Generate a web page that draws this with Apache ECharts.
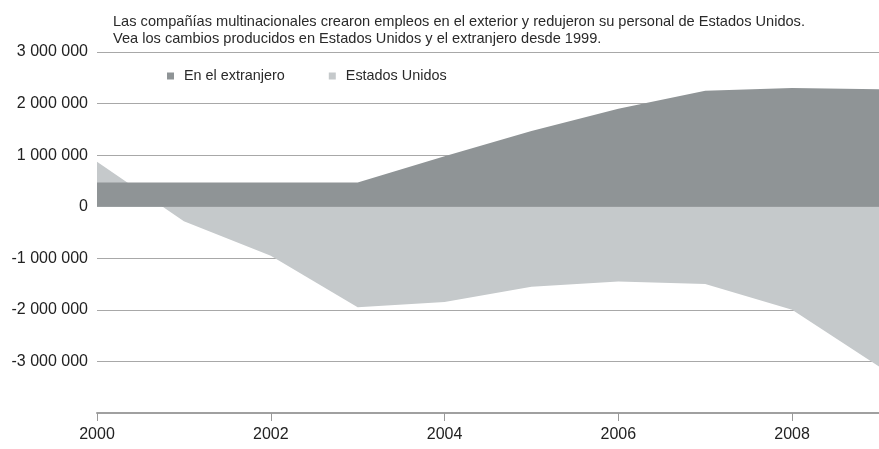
<!DOCTYPE html>
<html>
<head>
<meta charset="utf-8">
<script src="https://cdn.jsdelivr.net/npm/echarts@6/dist/echarts.min.js"></script>
<style>
html,body{margin:0;padding:0;background:#fff;}
#chart{width:879px;height:449px;}
</style>
</head>
<body>
<div id="chart"></div>
<script>
const titleLines = [
  'Las compañías multinacionales crearon empleos en el exterior y redujeron su personal de Estados Unidos.',
  'Vea los cambios producidos en Estados Unidos y el extranjero desde 1999.'
];
const years = ['2000','2001','2002','2003','2004','2005','2006','2007','2008','2009'];
const seriesNames = ['En el extranjero', 'Estados Unidos'];
const abroad = [470000, 470000, 470000, 470000, 980000, 1470000, 1900000, 2250000, 2300000, 2280000];
const unitedStates = [870000, -280000, -950000, -1950000, -1850000, -1550000, -1450000, -1500000, -2000000, -3100000];
const yTicks = [-4000000, -3000000, -2000000, -1000000, 0, 1000000, 2000000, 3000000];

const FONT = '"Liberation Sans", Arial, Helvetica, sans-serif';
function fmt(v) {
  if (v === yTicks[0]) return '';
  const s = Math.abs(v).toString().replace(/\B(?=(\d{3})+(?!\d))/g, ' ');
  return (v < 0 ? '-' : '') + s;
}

const chart = echarts.init(document.getElementById('chart'), null, {renderer: 'canvas'});
chart.setOption({
  backgroundColor: '#ffffff',
  animation: false,
  title: {
    text: titleLines.join('\n'),
    left: 108,
    top: 8,
    textStyle: {fontFamily: FONT, fontSize: 14.6, fontWeight: 'normal', color: '#2a2a2a', lineHeight: 17}
  },
  legend: {
    data: seriesNames,
    left: 162,
    top: 64,
    itemWidth: 7,
    itemHeight: 7,
    itemGap: 44,
    icon: 'rect',
    textStyle: {fontFamily: FONT, fontSize: 14.4, color: '#2a2a2a', padding: [0, 0, 0, 5]}
  },
  grid: {left: 97, right: -5.5, top: 52, bottom: 36, containLabel: false},
  xAxis: {
    type: 'category',
    data: years,
    boundaryGap: false,
    axisLine: {show: true, onZero: false, lineStyle: {color: '#a0a0a0', width: 2}},
    axisTick: {show: true, interval: 1, length: 8, lineStyle: {color: '#999', width: 1}},
    axisLabel: {interval: 1, margin: 14, fontFamily: FONT, fontSize: 16, color: '#222'},
    splitLine: {show: false}
  },
  yAxis: {
    type: 'value',
    min: yTicks[0],
    max: yTicks[yTicks.length - 1],
    interval: 1000000,
    axisLine: {show: false},
    axisTick: {show: false},
    axisLabel: {formatter: fmt, margin: 9, fontFamily: FONT, fontSize: 16, color: '#222'},
    splitLine: {show: true, lineStyle: {color: '#a8a8a8', width: 1.2}}
  },
  series: [
    {
      name: seriesNames[1],
      type: 'line',
      data: unitedStates,
      symbol: 'none',
      lineStyle: {width: 0},
      itemStyle: {color: '#c5c9cb'},
      areaStyle: {color: '#c5c9cb', opacity: 1},
      z: 2
    },
    {
      name: seriesNames[0],
      type: 'line',
      data: abroad,
      symbol: 'none',
      lineStyle: {width: 0},
      itemStyle: {color: '#8f9496'},
      areaStyle: {color: '#8f9496', opacity: 1},
      z: 3
    }
  ]
});
</script>
</body>
</html>
